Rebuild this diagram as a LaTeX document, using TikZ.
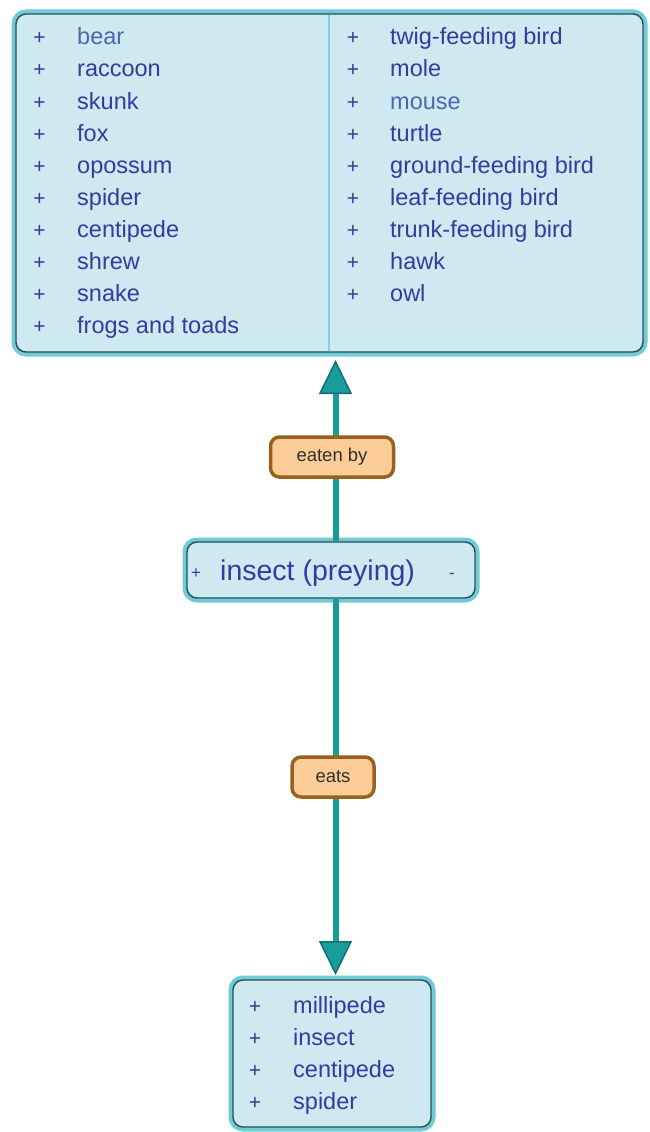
\documentclass[tikz,border=0pt]{standalone}
\usepackage{fontspec}
\setmainfont{Liberation Sans}
\usetikzlibrary{arrows.meta}

\definecolor{boxfill}{RGB}{206,233,239}
\definecolor{rimlight}{RGB}{112,202,216}
\definecolor{rimdark}{RGB}{38,78,88}
\definecolor{divider}{RGB}{130,208,222}
\definecolor{linkteal}{RGB}{24,156,156}
\definecolor{linkshade}{RGB}{20,110,112}
\definecolor{itemblue}{RGB}{54,58,160}
\definecolor{itemsoft}{RGB}{78,100,180}
\definecolor{tagfill}{RGB}{252,205,152}
\definecolor{tagrim}{RGB}{150,98,30}
\definecolor{tagtext}{RGB}{52,46,46}

\tikzset{
  conceptbox/.style={
    preaction={draw=rimlight, line width=9pt},
    fill=boxfill, draw=rimdark, line width=1.4pt,
    rounded corners=10pt, outer sep=0pt, inner sep=0pt},
  itemtext/.style={anchor=base west, inner sep=0pt, text=itemblue,
    font=\fontsize{23.5}{28}\selectfont},
  itemplus/.style={anchor=base, inner sep=0pt, text=itemblue,
    font=\fontsize{21}{25}\selectfont},
  linktag/.style={fill=tagfill, draw=tagrim, line width=3.5pt,
    rounded corners=9pt, text=tagtext, inner sep=0pt,
    font=\fontsize{18.5}{22}\selectfont},
  link/.style={draw=linkteal, line width=6pt,
    -{Triangle[length=34pt, width=33pt, line width=1.5pt, fill=linkteal, color=linkshade]}},
}

\begin{document}
\begin{tikzpicture}[x=1pt, y=-1pt]
  \useasboundingbox[fill=white] (0,0) rectangle (650,1132);

  % boxes
  \node[conceptbox, minimum width=627pt, minimum height=338pt] (top) at (329.5,183) {};
  \node[conceptbox, minimum width=288pt, minimum height=56pt] (mid) at (331,570) {};
  \node[conceptbox, minimum width=198pt, minimum height=147pt] (bot) at (332,1053.5) {};

  % column divider in the predator box
  \coordinate (split) at (329,0);
  \draw[divider, line width=1.5pt] ([yshift=-0.7pt]top.north -| split) -- ([yshift=0.7pt]top.south -| split);

  % connectors
  \coordinate (axis) at (335.5,0);
  \draw[link, shorten >=8pt] (mid.north -| axis) -- (top.south -| axis);
  \draw[link, shorten >=5pt] (mid.south -| axis) -- (bot.north -| axis);

  \node[linktag, minimum width=123pt, minimum height=40pt] (eatenby) at (332,457) {eaten by};
  \node[linktag, minimum width=82pt, minimum height=40pt] (eats) at (333,777) {eats};

  % predators, left column
  \foreach \name/\tone [count=\i from 0] in {bear/itemsoft,raccoon/itemblue,skunk/itemblue,fox/itemblue,opossum/itemblue,spider/itemblue,centipede/itemblue,shrew/itemblue,snake/itemblue,frogs and toads/itemblue}{
    \node[itemplus] (lp\i) at (39.5,45+32*\i) {+};
    \node[itemtext, text=\tone] (lt\i) at (77,45+32*\i) {\name};
  }
  % predators, right column
  \foreach \name/\tone [count=\i from 0] in {twig-feeding bird/itemblue,mole/itemblue,mouse/itemsoft,turtle/itemblue,ground-feeding bird/itemblue,leaf-feeding bird/itemblue,trunk-feeding bird/itemblue,hawk/itemblue,owl/itemblue}{
    \node[itemplus] (rp\i) at (353,45+32*\i) {+};
    \node[itemtext, text=\tone] (rt\i) at (390,45+32*\i) {\name};
  }

  % central concept
  \node[itemplus, font=\fontsize{17}{20}\selectfont] (midplus) at (196,578) {+};
  \node[itemtext, font=\fontsize{28.5}{32}\selectfont] (midtext) at (220,580) {insect (preying)};
  \node[itemplus, font=\fontsize{17}{20}\selectfont] (midminus) at (452,578) {-};

  % prey
  \foreach \name [count=\i from 0] in {millipede,insect,centipede,spider}{
    \node[itemplus] (bp\i) at (255,1013+32*\i) {+};
    \node[itemtext] (bt\i) at (293,1013+32*\i) {\name};
  }
\end{tikzpicture}
\end{document}
